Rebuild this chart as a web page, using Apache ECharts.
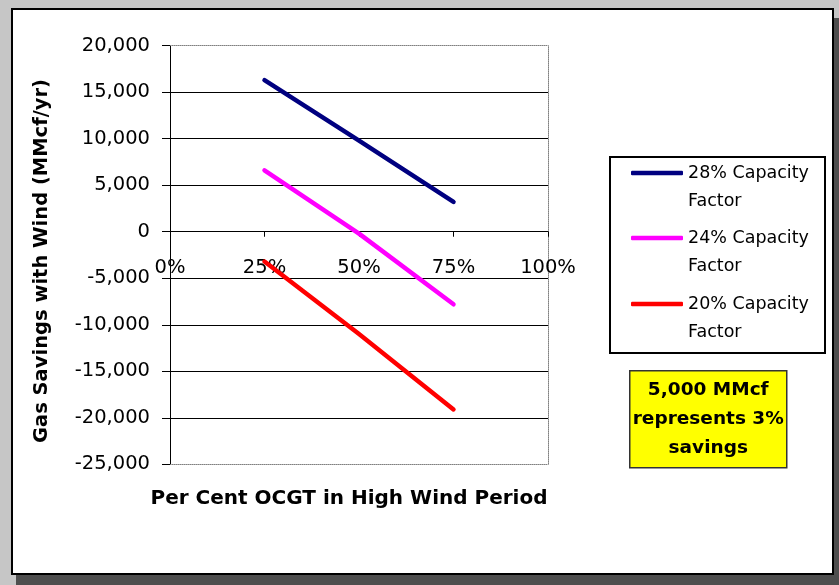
<!DOCTYPE html>
<html>
<head>
<meta charset="utf-8">
<script src="https://cdn.jsdelivr.net/npm/echarts@6/dist/echarts.min.js"></script>
<style>
  html, body { margin: 0; padding: 0; }
  body { width: 839px; height: 585px; position: relative; overflow: hidden; background: #c6c6c6; }
  #frame {
    position: absolute; left: 11px; top: 8px; width: 823px; height: 567px;
    box-sizing: border-box; border: 2px solid #000; background: #fff;
    box-shadow: 5px 10px 0 #4e4e4e;
  }
  #chart { position: absolute; left: 0; top: 0; width: 839px; height: 585px; }
</style>
</head>
<body>
<div id="frame"></div>
<div id="chart"></div>
<script>
// Share of OCGT in the high wind period (%)
const ocgtShare = [25, 50, 75];

// Gas savings with wind (MMcf/yr) for each capacity factor
const seriesNames = ['28% Capacity Factor', '24% Capacity Factor', '20% Capacity Factor'];
const cf28 = [16300, 9800, 3200];
const cf24 = [6600, -200, -7800];
const cf20 = [-3200, -11000, -19100];
const seriesColors = ['#000080', '#ff00ff', '#ff0000'];

// Axis ranges
const xTicks = [0, 25, 50, 75, 100];
const yMin = -25000, yMax = 20000, yStep = 5000;

const note = ['5,000 MMcf', 'represents 3%', 'savings'];

const FONT = 'DejaVu Sans';

// plot area box
const GRID = { left: 170, right: 291, top: 45.7, bottom: 120.7 };
const plotHeight = 585 - GRID.top - GRID.bottom;
// lift the percentage axis from the bottom edge up to the zero line
const zeroLift = -plotHeight * (0 - yMin) / (yMax - yMin);

function pairs(xs, ys) { return xs.map((x, i) => [x, ys[i]]); }
function thousands(v) {
  const s = Math.abs(v).toString().replace(/\B(?=(\d{3})+(?!\d))/g, ',');
  return (v < 0 ? '-' : '') + s;
}

const chart = echarts.init(document.getElementById('chart'), null, { renderer: 'canvas' });

const lineSeries = [cf28, cf24, cf20].map((vals, i) => ({
  name: seriesNames[i],
  type: 'line',
  xAxisIndex: 0,
  yAxisIndex: 0,
  data: pairs(ocgtShare, vals),
  symbol: 'none',
  showSymbol: false,
  smooth: false,
  silent: true,
  lineStyle: { color: seriesColors[i], width: 4.5, cap: 'round', join: 'round' },
  itemStyle: { color: seriesColors[i] },
  z: 5
}));

// one legend block per series, stacked inside a shared frame
const legendTops = [131, 196, 262];
const legends = seriesNames.map((name, i) => ({
  data: [name],
  left: 631,
  top: legendTops[i],
  orient: 'vertical',
  padding: 0,
  icon: 'roundRect',
  itemWidth: 52,
  itemHeight: 4.5,
  selectedMode: false,
  formatter: n => '\n' + n.replace(' Factor', '\nFactor'),
  textStyle: {
    fontFamily: FONT, fontSize: 17.5, color: '#000', lineHeight: 28
  }
}));

const dotted = { color: '#808080', width: 1, type: 'dotted' };

const option = {
  animation: false,
  backgroundColor: 'transparent',
  grid: { left: GRID.left, right: GRID.right, top: GRID.top, bottom: GRID.bottom, show: false },
  legend: legends,
  xAxis: [
    {
      type: 'value', min: xTicks[0], max: xTicks[xTicks.length - 1], interval: 25,
      position: 'bottom',
      offset: zeroLift,
      axisLine: { show: true, onZero: false, lineStyle: { color: '#000', width: 1 } },
      axisTick: { show: true, inside: false, length: 5, lineStyle: { color: '#000', width: 1 } },
      axisLabel: {
        margin: 26, fontFamily: FONT, fontSize: 19.5, color: '#000',
        formatter: v => v + '%'
      },
      splitLine: { show: false }
    },
    {
      type: 'value', min: xTicks[0], max: xTicks[xTicks.length - 1], position: 'top',
      axisLine: { show: true, onZero: false, lineStyle: dotted },
      axisTick: { show: false }, axisLabel: { show: false }, splitLine: { show: false }
    },
    {
      type: 'value', min: xTicks[0], max: xTicks[xTicks.length - 1], position: 'bottom',
      axisLine: { show: true, onZero: false, lineStyle: dotted },
      axisTick: { show: false }, axisLabel: { show: false }, splitLine: { show: false },
      name: 'Per Cent OCGT in High Wind Period',
      nameLocation: 'middle',
      nameGap: 24,
      nameTextStyle: {
        fontFamily: FONT, fontSize: 20, fontWeight: 'bold', color: '#000',
        padding: [0, 20, 0, 0]
      }
    }
  ],
  yAxis: [
    {
      type: 'value', min: yMin, max: yMax, interval: yStep,
      position: 'left',
      axisLine: { show: true, onZero: false, lineStyle: { color: '#000', width: 1 } },
      axisTick: { show: true, inside: false, length: 8, lineStyle: { color: '#000', width: 1 } },
      axisLabel: {
        margin: 20, fontFamily: FONT, fontSize: 19.5, color: '#000',
        formatter: v => thousands(v)
      },
      splitLine: {
        show: true, showMinLine: false, showMaxLine: false,
        lineStyle: { color: '#000', width: 1 }
      },
      name: 'Gas Savings with Wind (MMcf/yr)',
      nameLocation: 'middle',
      nameRotate: 90,
      nameGap: 118,
      nameTextStyle: {
        fontFamily: FONT, fontSize: 19.5, fontWeight: 'bold', color: '#000',
        padding: [0, 12, 0, 0]
      }
    },
    {
      type: 'value', min: yMin, max: yMax, interval: yStep,
      position: 'right',
      axisLine: { show: true, onZero: false, lineStyle: dotted },
      axisTick: { show: false }, axisLabel: { show: false }, splitLine: { show: false }
    }
  ],
  graphic: [
    {
      type: 'rect', left: 609, top: 156, z: 1, silent: true,
      shape: { width: 215, height: 196 },
      style: { fill: '#fff', stroke: '#000', lineWidth: 2 }
    },
    {
      type: 'group', left: 629, top: 370, z: 1, silent: true,
      children: [
        {
          type: 'rect', shape: { x: 0, y: 0, width: 157, height: 97 },
          style: { fill: '#ffff00', stroke: '#333', lineWidth: 1.5 }
        },
        {
          type: 'text', x: 78.5, y: 48.5,
          style: {
            text: note.join('\n'), fill: '#000',
            font: 'bold 18.5px "' + FONT + '"',
            lineHeight: 29, align: 'center', verticalAlign: 'middle'
          }
        }
      ]
    }
  ],
  series: lineSeries
};

chart.setOption(option);
</script>
</body>
</html>
